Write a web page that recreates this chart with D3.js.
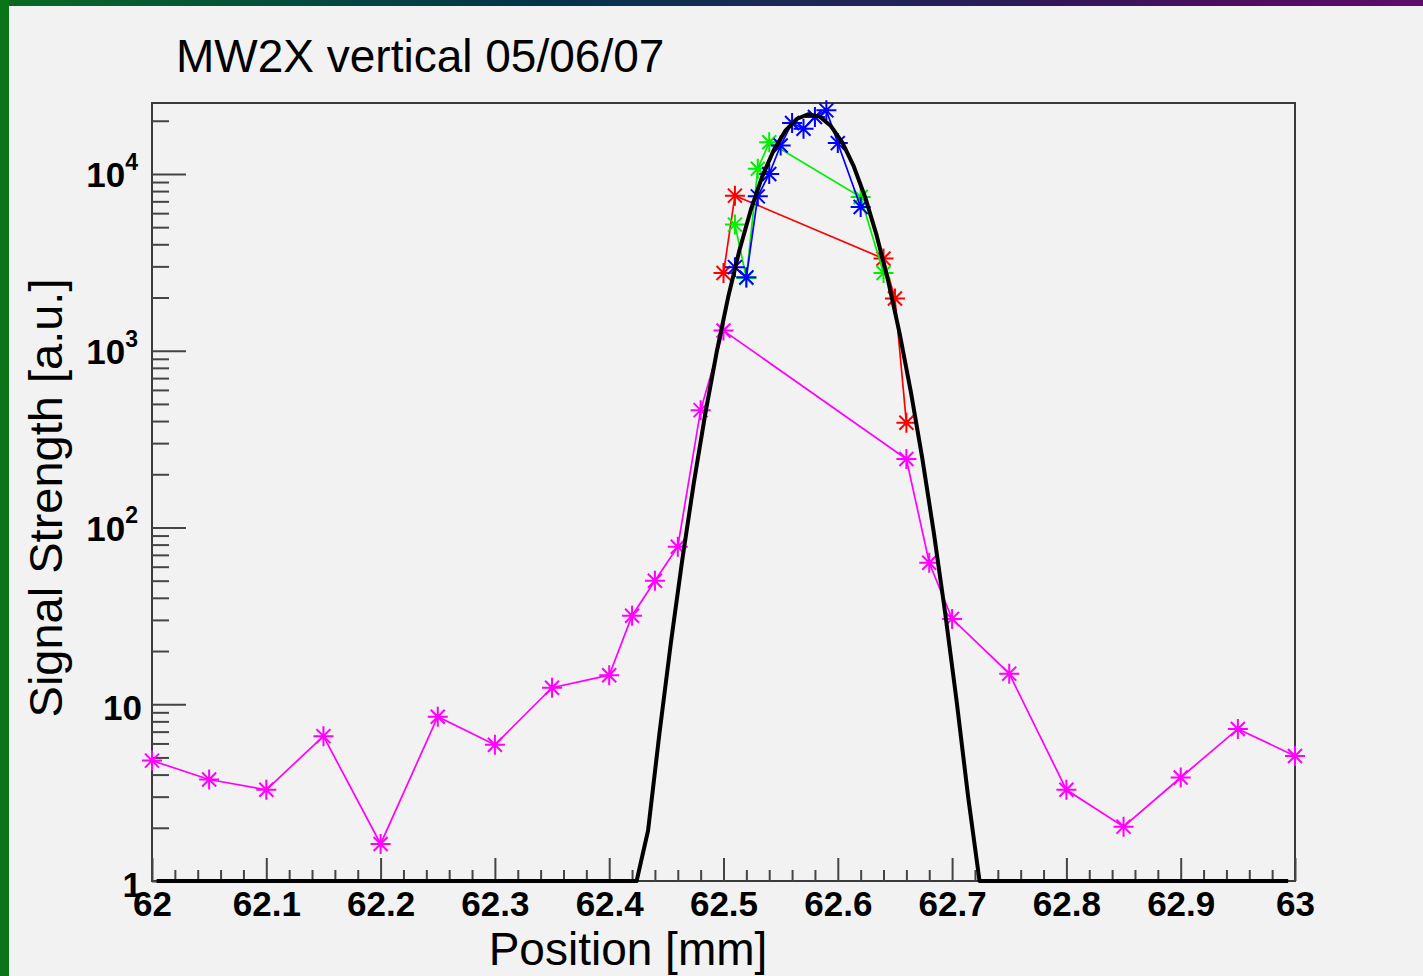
<!DOCTYPE html>
<html>
<head>
<meta charset="utf-8">
<script src="https://cdn.jsdelivr.net/npm/d3@7"></script>
<style>
  html, body { margin: 0; padding: 0; background: #f2f2f2; }
  svg { display: block; }
  text { font-family: "Liberation Sans", Arial, Helvetica, sans-serif; }
</style>
</head>
<body>
<svg id="chart" width="1423" height="976"></svg>
<script>
// Wire scan positions [mm] and signal strengths [a.u.] for each pass
const magentaX = [62.0, 62.05, 62.1, 62.15, 62.2, 62.25, 62.3, 62.35, 62.4, 62.42, 62.44, 62.46, 62.48, 62.5, 62.66, 62.68, 62.7, 62.75, 62.8, 62.85, 62.9, 62.95, 63.0];
const magentaY = [4.8, 3.75, 3.28, 6.6, 1.62, 8.5, 5.9, 12.4, 14.6, 31.7, 50, 77.8, 461, 1300, 244, 63.2, 30.4, 14.9, 3.28, 2.03, 3.85, 7.25, 5.1];

const redX = [62.5, 62.51, 62.64, 62.65, 62.66];
const redY = [2750, 7540, 3320, 1975, 391];

const greenX = [62.51, 62.52, 62.53, 62.54, 62.62, 62.64];
const greenY = [5170, 2580, 10700, 15100, 7400, 2750];

const blueX = [62.51, 62.52, 62.53, 62.54, 62.55, 62.56, 62.57, 62.58, 62.59, 62.6, 62.62];
const blueY = [2970, 2600, 7470, 10000, 14500, 19400, 18000, 21000, 22900, 14950, 6500];

// Gaussian fit parameters, its drawing range and sample count
const fitAmplitude = 21800;
const fitMean = 62.5757;
const fitSigma = 0.0328;
const fitRange = [62.004, 62.994];
const fitSamples = 100;

// Axis ticks
const xMajorTicks = [62, 62.1, 62.2, 62.3, 62.4, 62.5, 62.6, 62.7, 62.8, 62.9, 63];
const xTickLabels = ["62", "62.1", "62.2", "62.3", "62.4", "62.5", "62.6", "62.7", "62.8", "62.9", "63"];
const yMajorTicks = [1, 10, 100, 1000, 10000];
const yTickLabels = [["1", ""], ["10", ""], ["10", "2"], ["10", "3"], ["10", "4"]];

const titleText = "MW2X vertical 05/06/07";
const xTitle = "Position [mm]";
const yTitle = "Signal Strength [a.u.]";

const svg = d3.select("#chart");
const W = 1423, H = 976;
const frame = { left: 152, right: 1295, top: 103, bottom: 881 };

// Window background: gradient top band, green side band, light canvas
const defs = svg.append("defs");
const grad = defs.append("linearGradient").attr("id", "band").attr("x1", "0").attr("x2", "1").attr("y1", "0").attr("y2", "0");
[["0", "#0b6a22"], ["0.18", "#04503a"], ["0.38", "#03344a"], ["0.55", "#1a2a55"], ["0.72", "#2c1a58"], ["0.85", "#4a0e60"], ["1", "#5e0b6c"]]
  .forEach(([o, c]) => grad.append("stop").attr("offset", o).attr("stop-color", c));
svg.append("rect").attr("x", 0).attr("y", 0).attr("width", W).attr("height", 6).attr("fill", "url(#band)");
svg.append("rect").attr("x", 0).attr("y", 0).attr("width", 9).attr("height", H).attr("fill", "#0a7418");
svg.append("rect").attr("x", 9).attr("y", 6).attr("width", W - 9).attr("height", H - 6).attr("fill", "#f2f2f2");

const x = d3.scaleLinear().domain([62, 63]).range([frame.left, frame.right]);
const y = d3.scaleLog().domain([1, 25200]).range([frame.bottom, frame.top]);

// Frame
svg.append("rect")
  .attr("x", frame.left).attr("y", frame.top)
  .attr("width", frame.right - frame.left).attr("height", frame.bottom - frame.top)
  .attr("fill", "none").attr("stroke", "#3a3a3a").attr("stroke-width", 2);

// X axis: minor and major ticks pointing into the frame
const xMinor = d3.range(0, 51).map(i => 62 + i * 0.02).filter(v => Math.abs(v * 10 - Math.round(v * 10)) > 1e-6);
const gxMinor = svg.append("g").attr("transform", `translate(0,${frame.bottom})`)
  .call(d3.axisBottom(x).tickValues(xMinor).tickSizeInner(-11).tickSizeOuter(0).tickFormat(""));
const gx = svg.append("g").attr("transform", `translate(0,${frame.bottom})`)
  .call(d3.axisBottom(x).tickValues(xMajorTicks).tickSizeInner(-23).tickSizeOuter(0).tickPadding(10)
    .tickFormat((d, i) => xTickLabels[i]));
[gxMinor, gx].forEach(g => {
  g.select(".domain").remove();
  g.selectAll(".tick line").attr("stroke", "#444").attr("stroke-width", 2);
});
gx.selectAll(".tick text")
  .attr("fill", "#000").attr("font-size", 35).attr("font-weight", "bold")
  .attr("dy", "0.71em");

// Y axis: minor ticks at 2..9 per decade, major at decades
const yMinor = [];
for (let e = 0; e <= 4; e++) for (let m = 2; m <= 9; m++) { const v = m * Math.pow(10, e); if (v < 25200) yMinor.push(v); }
const gyMinor = svg.append("g").attr("transform", `translate(${frame.left},0)`)
  .call(d3.axisLeft(y).tickValues(yMinor).tickSizeInner(-17).tickSizeOuter(0).tickFormat(""));
const gy = svg.append("g").attr("transform", `translate(${frame.left},0)`)
  .call(d3.axisLeft(y).tickValues(yMajorTicks).tickSizeInner(-34).tickSizeOuter(0).tickPadding(10).tickFormat(""));
[gyMinor, gy].forEach(g => {
  g.select(".domain").remove();
  g.selectAll(".tick line").attr("stroke", "#444").attr("stroke-width", 2);
});
gy.selectAll(".tick text").each(function (d, i) {
  const t = d3.select(this);
  const [base, sup] = yTickLabels[i];
  t.text(null).attr("fill", "#000").attr("font-size", 35).attr("font-weight", "bold")
    .attr("x", sup ? -14 : -10).attr("dy", sup ? "0.36em" : "0.44em").attr("text-anchor", "end");
  t.append("tspan").text(base);
  if (sup) t.append("tspan").text(sup).attr("font-size", 23).attr("dy", "-0.75em");
});

// Line-and-marker series
const line = d3.line().x(d => x(d[0])).y(d => y(d[1]));
const star = "M-10,0H10M0,-10V10M-7,-7L7,7M-7,7L7,-7";
const series = [
  { xs: magentaX, ys: magentaY, color: "#ff00ff" },
  { xs: redX, ys: redY, color: "#ff0000" },
  { xs: greenX, ys: greenY, color: "#00ee00" },
  { xs: blueX, ys: blueY, color: "#0000ff" }
];
series.forEach(s => {
  const pts = s.xs.map((v, i) => [v, s.ys[i]]);
  const g = svg.append("g");
  g.append("path").datum(pts).attr("d", line)
    .attr("fill", "none").attr("stroke", s.color).attr("stroke-width", 1.7);
  g.selectAll("path.mk").data(pts).join("path").attr("class", "mk")
    .attr("transform", d => `translate(${x(d[0])},${y(d[1])})`)
    .attr("d", star).attr("fill", "none").attr("stroke", s.color).attr("stroke-width", 2);
});

// Gaussian fit sampled at fixed steps, held at the axis minimum outside its support
const gauss = v => fitAmplitude * Math.exp(-((v - fitMean) ** 2) / (2 * fitSigma * fitSigma));
const fitPts = d3.range(fitSamples)
  .map(i => fitRange[0] + i * (fitRange[1] - fitRange[0]) / (fitSamples - 1))
  .map(v => [v, Math.max(1, gauss(v))]);
svg.append("path").datum(fitPts).attr("d", line)
  .attr("fill", "none").attr("stroke", "#000").attr("stroke-width", 4).attr("stroke-linejoin", "round");

// Titles
svg.append("text").attr("x", 176).attr("y", 72).attr("font-size", 46).attr("fill", "#000").text(titleText);
svg.append("text").attr("x", 628).attr("y", 965).attr("text-anchor", "middle")
  .attr("font-size", 46).attr("fill", "#000").text(xTitle);
svg.append("text").attr("transform", "translate(62,498) rotate(-90)").attr("text-anchor", "middle")
  .attr("font-size", 47).attr("fill", "#000").text(yTitle);
</script>
</body>
</html>
